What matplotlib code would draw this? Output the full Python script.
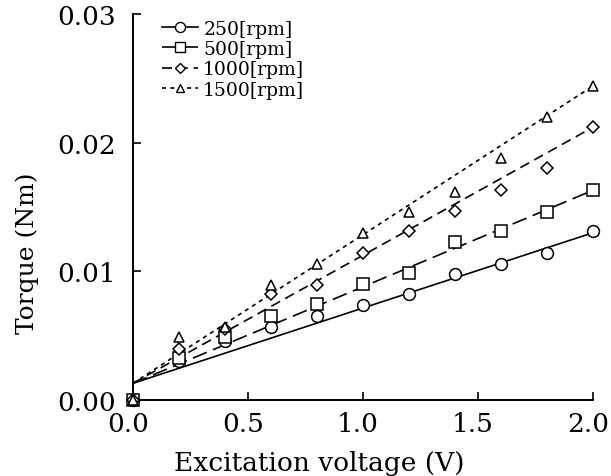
import numpy as np
import matplotlib
matplotlib.use('Agg')
import matplotlib.pyplot as plt
from matplotlib.transforms import ScaledTranslation

matplotlib.rcParams['font.family'] = 'DejaVu Serif'

voltage = [0.0, 0.2, 0.4, 0.6, 0.8, 1.0, 1.2, 1.4, 1.6, 1.8, 2.0]

torque_250 = [0.0, 0.0030, 0.0046, 0.0057, 0.0065, 0.0074, 0.0082, 0.0098, 0.0106, 0.0114, 0.0131]
torque_500 = [0.0, 0.0033, 0.0049, 0.0065, 0.0075, 0.0090, 0.0099, 0.0123, 0.0131, 0.0146, 0.0163]
torque_1000 = [0.0, 0.0040, 0.0055, 0.0082, 0.0089, 0.0114, 0.0131, 0.0147, 0.0163, 0.0180, 0.0212]
torque_1500 = [0.0, 0.0049, 0.0057, 0.0089, 0.0106, 0.0130, 0.0146, 0.0162, 0.0188, 0.0220, 0.0244]

# fitted straight lines (intercept, slope)
fit_intercept = [0.0013, 0.0013, 0.0013, 0.0013]
fit_slope = [0.00585, 0.0075, 0.00995, 0.01155]

labels = ['250[rpm]', '500[rpm]', '1000[rpm]', '1500[rpm]']
markers = ['o', 's', 'D', '^']
msizes = [8.5, 8.5, 6, 7.5]
styles = ['-', (0, (9, 4)), (0, (6, 3.5)), (0, (2.5, 2.5))]

fig = plt.figure(figsize=(6.11, 4.77), dpi=100)
ax = fig.add_axes([0.2177, 0.1593, 0.7528, 0.8093])

series = [torque_250, torque_500, torque_1000, torque_1500]
x_fit = np.array([0.0, 2.0])
for i, ys in enumerate(series):
    ax.plot(x_fit, fit_intercept[i] + fit_slope[i] * x_fit, color='black',
            lw=1.2, linestyle=styles[i])
    ax.plot(voltage, ys, linestyle='none', marker=markers[i], ms=msizes[i],
            mfc='white', mec='black', mew=1.1, clip_on=False, zorder=3)

# legend proxies: line with marker in middle
handles = []
for i in range(4):
    h, = ax.plot([], [], color='black', lw=1.2, linestyle=styles[i],
                 marker=markers[i], ms=msizes[i] * 0.85, mfc='white', mec='black', mew=1.0)
    handles.append(h)
ax.legend(handles, labels, loc='upper left', bbox_to_anchor=(0.063, 0.985), frameon=False,
          fontsize=13.5, handlelength=1.9, labelspacing=0.12, handletextpad=0.3,
          borderaxespad=0.0, borderpad=0.0)

ax.set_xlim(0, 2.0)
ax.set_ylim(0, 0.03)
ax.set_xticks([0.0, 0.5, 1.0, 1.5, 2.0])
ax.set_xticklabels(['0.0', '0.5', '1.0', '1.5', '2.0'])
ax.set_yticks([0.0, 0.01, 0.02, 0.03])
ax.set_yticklabels(['0.00', '0.01', '0.02', '0.03'])
ax.tick_params(direction='in', length=6, width=1.2, labelsize=19, pad=12)
ax.tick_params(axis='x', pad=8)
shift = ScaledTranslation(-5 / 100, 0, fig.dpi_scale_trans)
for lab in ax.get_xticklabels():
    lab.set_transform(lab.get_transform() + shift)

for s in ['top', 'right']:
    ax.spines[s].set_visible(False)
for s in ['left', 'bottom']:
    ax.spines[s].set_linewidth(1.4)

ax.set_xlabel('Excitation voltage (V)', fontsize=19, labelpad=0)
ax.xaxis.set_label_coords(0.404, -0.13)
ax.set_ylabel('Torque (Nm)', fontsize=18)
ax.yaxis.set_label_coords(-0.205, 0.383)

plt.savefig('out.png')
